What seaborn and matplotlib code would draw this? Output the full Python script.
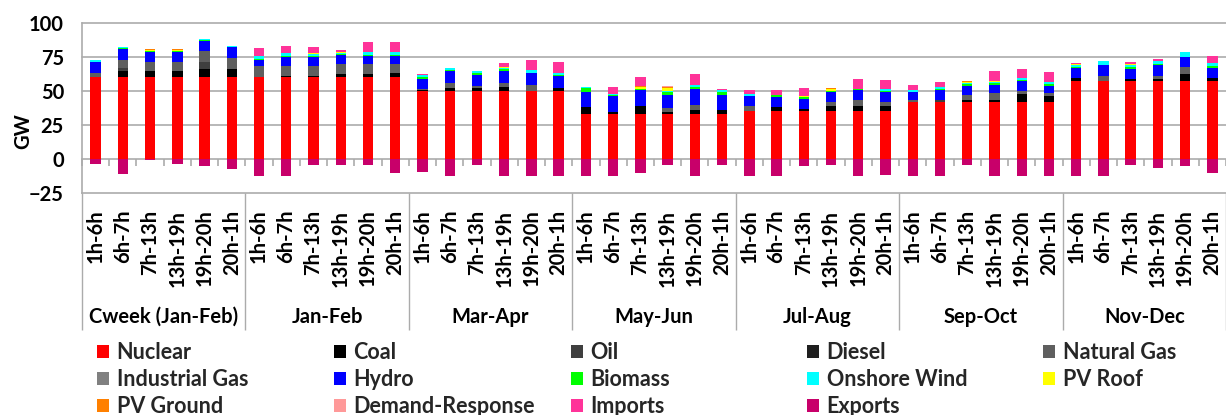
import numpy as np
import pandas as pd
import matplotlib
matplotlib.use("Agg")
import matplotlib.pyplot as plt
from matplotlib.patches import Patch
import seaborn as sns

# ---- categories -------------------------------------------------------------
periods = ["Cweek (Jan-Feb)", "Jan-Feb", "Mar-Apr", "May-Jun",
           "Jul-Aug", "Sep-Oct", "Nov-Dec"]
time_slots = ["1h-6h", "6h-7h", "7h-13h", "13h-19h", "19h-20h", "20h-1h"]

# ---- generation by technology (GW), six time slots per period ---------------
nuclear = [60, 60, 60, 60, 60, 60,
           60, 60, 60, 60, 60, 60,
           50, 50, 50, 50, 50, 50,
           33, 33, 33, 33, 33, 33,
           35, 35, 35, 35, 35, 35,
           42, 42, 42, 42, 42, 42,
           57, 57, 57, 57, 57, 57]
coal = [0, 5, 5, 5, 6.5, 6.5,
        0.5, 1.2, 1, 2.2, 2.2, 3.2,
        0.6, 1.9, 2, 2.7, 0, 2.4,
        5, 1.3, 6.2, 1.6, 3, 3,
        0, 3, 1.8, 3.7, 4.2, 4.2,
        0, 0, 1.6, 1.6, 5.7, 4.5,
        2.2, 0, 1.8, 1.8, 5.2, 2.5]
oil = [0, 2, 0, 0, 5, 0,
       0, 0, 0, 0, 0, 0,
       0, 0, 0, 0, 0, 0,
       0, 0, 0, 0, 0, 0,
       0, 0, 0, 0, 0, 0,
       0, 1.6, 0, 0, 0, 0,
       0, 0, 0, 0, 0, 0]
diesel = [0, 0, 0, 0, 0, 0,
          0, 0, 0, 0, 0, 0,
          0, 0, 0, 0, 0, 0,
          0, 0, 0, 0, 0, 0,
          0, 0, 0, 0, 0, 0,
          0, 0, 0, 0, 0, 0,
          0, 0, 0, 0, 0, 0]
natural_gas = [3, 6, 6, 6, 8, 8,
               8, 7.4, 7.6, 7.8, 7.8, 6.8,
               1.2, 4, 1.9, 3.2, 4.4, 0,
               0, 0, 0, 2.6, 3.9, 0,
               4.2, 0, 0, 2.9, 4.4, 2.4,
               1.2, 0, 3.7, 4.8, 2.5, 1.9,
               0, 4.2, 0, 2.4, 5.4, 0]
industrial_gas = [0, 0, 0, 0, 0, 0,
                  0, 0, 0, 0, 0, 0,
                  0, 0, 0, 0, 0, 0,
                  0, 0, 0, 0, 0, 0,
                  0, 0, 0, 0, 0, 0,
                  0, 0, 0, 0, 0, 0,
                  0, 0, 0, 0, 0, 0]
hydro = [8, 8, 7.5, 7.5, 7.5, 7.5,
         4.5, 6.4, 6.4, 6.2, 5.5, 5.5,
         7.2, 9.1, 7.6, 8.9, 8.8, 8.4,
         11.5, 11.7, 11.2, 10.1, 11.6, 11.3,
         7.3, 7.7, 7.5, 7.5, 6.8, 7.3,
         6.3, 6.8, 6.6, 6.2, 6.9, 5.5,
         7.6, 7.6, 7.6, 7.6, 7.4, 7.4]
biomass = [0.5, 0.5, 0.8, 0.8, 0.5, 0.3,
           0.5, 1, 1, 1, 0.7, 1,
           1.5, 0.4, 2, 1.2, 0, 1.2,
           2.7, 1, 1.2, 2, 1.6, 2,
           0, 1.7, 1, 1.2, 1.2, 1.3,
           0, 1.2, 1, 1.2, 1.2, 1.2,
           0.5, 0, 1.5, 1.2, 0, 1.2]
onshore_wind = [1.2, 0.8, 0.3, 0.3, 0.8, 1,
                2, 2, 1, 0.6, 2.2, 2.5,
                1.3, 1.2, 1.5, 1.2, 2.2, 1.5,
                1, 1, 0, 0.6, 1.5, 1.1,
                1.5, 0, 0, 0, 0, 1.3,
                1.6, 1.3, 1, 0.8, 1.2, 1.2,
                1.9, 3, 1, 1.8, 3.4, 2.5]
pv_roof = [0, 0, 0.6, 0.6, 0, 0,
           0, 0, 0.6, 0.8, 0, 0,
           0, 0, 0, 0.7, 0, 0,
           0, 0, 1, 2.2, 0, 0,
           0, 0, 1.2, 1.2, 0, 0,
           0, 0, 0.7, 0.7, 0, 0,
           0.5, 0, 0.8, 0, 0, 0]
pv_ground = [0, 0, 0.5, 0.4, 0, 0,
             0, 0, 0.4, 0.4, 0, 0,
             0, 0, 0, 0, 0, 0,
             0, 0, 1.2, 1, 0, 0,
             0, 0, 0, 0.5, 0, 0,
             0, 0, 0.5, 0, 0, 0,
             0, 0, 0.5, 0, 0, 0]
demand_response = [0, 0, 0, 0, 0, 0,
                   0, 0, 0, 0, 0, 0,
                   0, 0, 0, 0, 0, 0,
                   0, 0, 0, 0.8, 0, 0,
                   0, 0, 0, 0.4, 0, 0,
                   0, 0, 0, 0, 0, 0,
                   0, 0, 0, 0, 0, 0]
imports = [0, 0, 0, 0, 0, 0,
           5.8, 5.3, 4.3, 1.4, 7.8, 7.2,
           0.7, 0, 0, 2.5, 7.6, 7.8,
           0, 4.9, 6.4, 0, 7.6, 1.1,
           2.4, 3.1, 5.7, 0, 7.1, 6.3,
           3.1, 3.4, 0, 7.6, 6.9, 7.7,
           0.8, 0, 1.4, 1.7, 0, 5.3]
exports = [-4, -11, -1, -4, -5.5, -7,
           -12.8, -12.8, -4.2, -4.2, -4.2, -10.3,
           -9.8, -12.8, -4.2, -12.8, -12.8, -12.8,
           -12.8, -12.8, -10.3, -4.2, -12.8, -4.2,
           -12.8, -12.8, -5.4, -4.2, -12.8, -11.5,
           -12.8, -12.8, -4.2, -12.8, -12.8, -12.8,
           -12.8, -12.8, -4.2, -6.6, -5.4, -10.3]

layers = [
    ("Nuclear", nuclear, "#FF0000"),
    ("Coal", coal, "#000000"),
    ("Oil", oil, "#3F3F3F"),
    ("Diesel", diesel, "#1F1F1F"),
    ("Natural Gas", natural_gas, "#5F5F5F"),
    ("Industrial Gas", industrial_gas, "#808080"),
    ("Hydro", hydro, "#0000FF"),
    ("Biomass", biomass, "#00FF00"),
    ("Onshore Wind", onshore_wind, "#00FFFF"),
    ("PV Roof", pv_roof, "#FFFF00"),
    ("PV Ground", pv_ground, "#FF8000"),
    ("Demand-Response", demand_response, "#FF9999"),
    ("Imports", imports, "#FF3399"),
    ("Exports", exports, "#C8006A"),
]

# ---- style ------------------------------------------------------------------
sns.set_theme(style="white")
plt.rcParams["font.family"] = ["Lato", "DejaVu Sans"]
plt.rcParams["font.weight"] = "bold"
FS = 14.5          # axis text
FS_LEG = 15.5      # legend text
GRID = "#ABABAB"

W, H = 1226, 415
fig = plt.figure(figsize=(W / 100, H / 100), dpi=100)
ax = fig.add_axes([82 / W, 1 - 193 / H, 1 - 82 / W, 170 / H])

bar_ids = [f"{p} | {s}" for p in periods for s in time_slots]
stack_top = np.zeros(len(bar_ids))
for name, values, colour in layers:
    values = np.asarray(values, dtype=float)
    frame = pd.DataFrame({"bar": bar_ids, "GW": values})
    base = np.zeros_like(values) if name == "Exports" else stack_top.copy()
    sns.barplot(data=frame, x="bar", y="GW", order=bar_ids, color=colour,
                saturation=1, width=0.38, errorbar=None, linewidth=0,
                bottom=base, ax=ax, zorder=3)
    if name != "Exports":
        stack_top += values

n = len(bar_ids)
ymin, ymax = -25, 100
ax.set_xlim(-0.5, 41.1)
ax.set_ylim(ymin, ymax)

# horizontal gridlines
for yv in (25, 50, 75, 100):
    ax.axhline(yv, color=GRID, lw=1.2, zorder=0, clip_on=False)

for side in ("top", "right"):
    ax.spines[side].set_visible(False)
for side in ("left", "bottom"):
    ax.spines[side].set_color(GRID)
    ax.spines[side].set_linewidth(1.2)

# y axis
ax.set_yticks([-25, 0, 25, 50, 75, 100])
ax.tick_params(axis="y", direction="out", length=5, width=1.2, color=GRID,
               pad=8, labelsize=FS, labelcolor="black")
for lab in ax.get_yticklabels():
    lab.set_fontweight("bold")
ax.set_ylabel("GW", fontsize=FS, fontweight="bold", color="black")
ax.yaxis.set_label_coords(-0.043, 0.365)

# time-slot labels under each bar, separated by thin ticks
ax.set_xlabel("")
ax.set_xticks(range(n))
ax.set_xticklabels(time_slots * len(periods), rotation=90, fontsize=FS,
                   fontweight="bold", color="black")
ax.set_xticks(np.arange(-0.5, n, 1.0), minor=True)
ax.tick_params(axis="x", which="major", length=0, pad=12)
ax.tick_params(axis="x", which="minor", direction="out", length=67.5,
               width=1.0, color=GRID)

# zero line with short category ticks
zero_frac = (0 - ymin) / (ymax - ymin)
zero_axis = ax.secondary_xaxis(zero_frac)
zero_axis.set_xticks(np.arange(-0.5, n, 1.0))
zero_axis.tick_params(direction="out", length=5, width=1.2, color=GRID,
                      labelbottom=False)
zero_axis.spines["bottom"].set_color(GRID)
zero_axis.spines["bottom"].set_linewidth(1.2)

# long separators between periods
period_sep = ax.secondary_xaxis("bottom")
period_sep.set_xticks(np.arange(-0.5, n + 1, len(time_slots)))
period_sep.tick_params(direction="out", length=98.5, width=1.0, color=GRID,
                       labelbottom=False)
period_sep.spines["bottom"].set_visible(False)

# period names
period_axis = ax.secondary_xaxis("bottom")
period_axis.set_xticks(np.arange(len(periods)) * len(time_slots)
                       + (len(time_slots) - 1) / 2)
period_axis.set_xticklabels(periods, fontsize=FS, fontweight="bold",
                            color="black")
period_axis.tick_params(length=0, pad=82)
period_axis.spines["bottom"].set_visible(False)

# legend: five evenly spaced columns, filled row by row
handles = [Patch(facecolor=c, edgecolor="none", label=nm) for nm, _, c in layers]
col_x = [97, 334, 571, 807, 1043]
for ci, xpx in enumerate(col_x):
    col_handles = handles[ci::5]
    fig.legend(handles=col_handles, loc="upper left",
               bbox_to_anchor=(xpx / W, 1 - 342 / H),
               bbox_transform=fig.transFigure, frameon=False,
               borderpad=0, borderaxespad=0, handlelength=0.58,
               handleheight=0.55, handletextpad=0.33, labelspacing=0.28,
               prop={"size": FS_LEG, "weight": "bold"})

fig.savefig("out.png", dpi=100)
